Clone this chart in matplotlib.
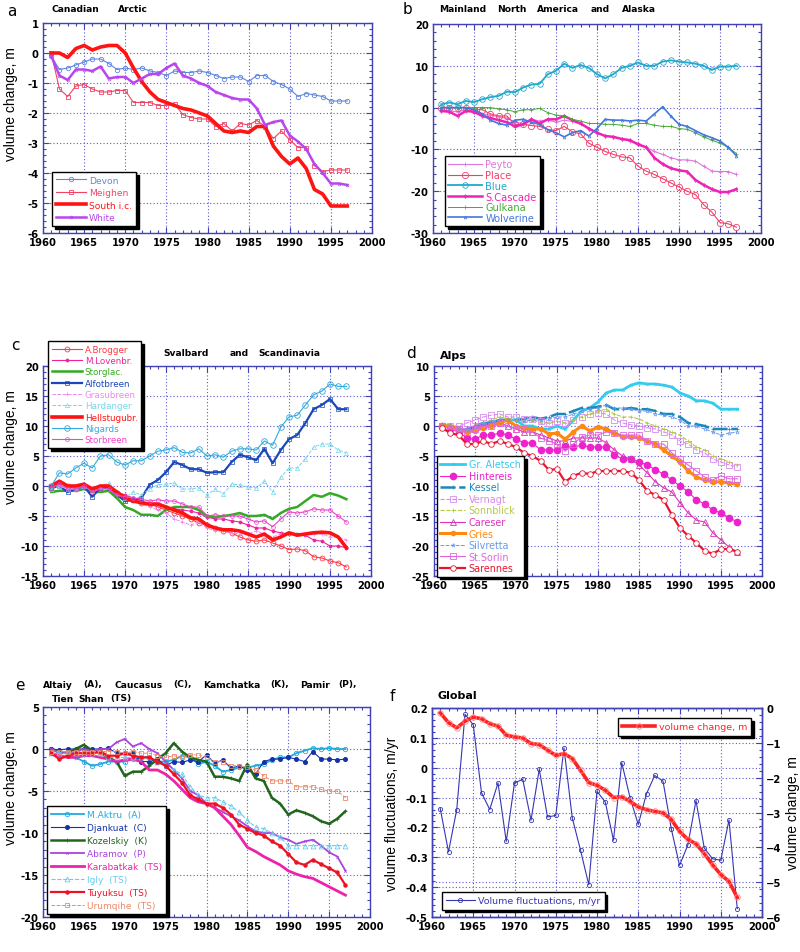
import matplotlib
matplotlib.use("Agg")
import matplotlib.pyplot as plt
from matplotlib.ticker import MultipleLocator, AutoMinorLocator, FuncFormatter

# ---------------- DATA ----------------
years = list(range(1961, 1998))

# a: Canadian Arctic
devon = [-0.1, -0.55, -0.5, -0.4, -0.3, -0.2, -0.2, -0.35, -0.55, -0.5,
         -0.55, -0.5, -0.6, -0.65, -0.75, -0.6, -0.65, -0.65, -0.6, -0.65,
         -0.75, -0.85, -0.8, -0.8, -0.95, -0.75, -0.75, -0.95, -1.05, -1.2,
         -1.45, -1.35, -1.4, -1.45, -1.6, -1.6, -1.6]
meighen = [0, -1.2, -1.45, -1.1, -1.05, -1.2, -1.3, -1.3, -1.25, -1.25,
           -1.65, -1.65, -1.65, -1.75, -1.75, -1.7, -2.05, -2.15, -2.2, -2.2,
           -2.45, -2.35, -2.6, -2.35, -2.4, -2.25, -2.45, -2.85, -2.6, -2.9,
           -3.15, -3.15, -3.75, -3.95, -3.9, -3.9, -3.9]
south_ic = [0, 0, -0.15, 0.15, 0.25, 0.1, 0.2, 0.25, 0.25, 0,
            -0.5, -0.95, -1.3, -1.55, -1.65, -1.75, -1.85, -1.9, -2.0, -2.1,
            -2.35, -2.6, -2.65, -2.6, -2.65, -2.45, -2.45, -3.1, -3.45, -3.7,
            -3.5, -3.85, -4.55, -4.7, -5.1, -5.1, -5.1]
white = [-0.1, -0.75, -0.9, -0.55, -0.55, -0.6, -0.45, -0.85, -0.8, -0.8,
         -1.0, -0.85, -0.7, -0.7, -0.5, -0.35, -0.75, -0.85, -1.0, -1.1,
         -1.3, -1.4, -1.5, -1.55, -1.55, -1.85, -2.4, -2.3, -2.25, -2.75,
         -2.95, -3.2, -3.7, -4.0, -4.35, -4.35, -4.4]

# b: Mainland North America and Alaska
peyto = [-0.5, -0.8, -1, -0.5, -0.8, -1.5, -1.8, -2.2, -2.5, -3.5,
         -3.8, -2.8, -3.2, -3.0, -3.5, -3.0, -3.3, -4.0, -5.0, -6.0,
         -6.8, -7.0, -7.5, -8.0, -8.5, -9.5, -10.5, -11.2, -12, -12.5,
         -12.5, -12.8, -14, -15.2, -15.3, -15.3, -16]
place = [0, 0, 0, 0, -0.5, -0.5, -1.5, -2, -2, -4,
         -4, -4.3, -4.5, -5.2, -5.5, -4.5, -5.8, -6.3, -8.5, -9.5,
         -10.5, -11.2, -11.8, -12, -14, -15.2, -16, -17, -18, -19,
         -20, -20.8, -23.2, -25, -27.5, -27.8, -28.6]
blue_gl = [0.8, 1.2, 0.8, 1.6, 1.3, 2.0, 2.5, 2.8, 3.8, 3.7,
           4.8, 5.5, 5.7, 8.0, 8.8, 10.5, 9.5, 10.2, 9.5, 8.0,
           7.0, 8.0, 9.5, 10.0, 10.8, 10.0, 10.0, 11.0, 11.3, 11.0,
           10.8, 10.5, 10.0, 9.0, 9.8, 9.8, 10.0]
s_cascade = [-0.8, -1, -2, -0.8, -1.0, -2.0, -2.5, -3.0, -3.5, -4.5,
             -4, -2.8, -3.8, -2.8, -2.8, -2.0, -3.0, -3.8, -5, -6,
             -6.8, -7.0, -7.5, -7.8, -8.8, -9.5, -12, -13.5, -14.5, -15,
             -15.3, -17.3, -18.5, -19.5, -20.2, -20.2, -19.5]
gulkana = [0, 0, 0, 0, 0, 0, 0, -0.3, -0.5, -1.0,
           -0.5, -0.5, -0.2, -1.2, -1.8, -2.0, -2.8, -3.2, -3.8, -3.8,
           -4.0, -4.0, -4.2, -4.5, -3.8, -3.8, -4.2, -4.5, -4.5, -5.0,
           -5.2, -6.0, -7.0, -7.8, -8.5, -9.5, -11.0]
wolverine = [0, 0, 0, 0, -0.5, -1.5, -3.0, -3.8, -4.2, -3.0,
             -2.8, -3.5, -4.0, -5.3, -6.0, -7.0, -6.0, -5.5, -6.8, -5.0,
             -2.8, -3.0, -3.0, -3.2, -3.0, -3.2, -1.5, 0.2, -2.0, -4.0,
             -4.5, -5.5, -6.5, -7.2, -8.0, -9.5, -11.5]

# c: Svalbard and Scandinavia
a_brogger = [-0.3, 0.5, 0, -0.5, 0, -0.5, -0.5, -0.3, -1.2, -2.0,
             -2.3, -2.8, -3.0, -3.5, -4.0, -4.5, -5.0, -5.5, -6.2, -6.5,
             -7.0, -7.5, -7.8, -8.5, -9.0, -9.2, -9.0, -9.5, -10.0, -10.6,
             -10.5, -10.8, -11.8, -12.0, -12.5, -12.8, -13.5]
m_lovenbr = [0, 0.5, 0, 0, 0, -0.5, 0, -0.5, -1.0, -1.5,
             -2.0, -2.5, -3.0, -3.0, -3.5, -3.8, -4.0, -4.2, -4.5, -5.2,
             -5.5, -5.5, -5.8, -6.0, -6.5, -7.0, -7.0, -7.5, -7.8, -8.0,
             -8.0, -8.2, -9.0, -9.2, -10.0, -10.0, -10.3]
storglac = [-1.0, -0.8, -0.8, -0.8, -0.5, -1.0, -1.0, -0.8, -2.0, -3.5,
            -4.0, -4.8, -4.8, -5.0, -4.0, -3.5, -3.5, -3.5, -4.0, -5.0,
            -5.2, -5.0, -4.8, -4.5, -5.0, -5.0, -4.8, -5.5, -4.5, -3.8,
            -3.5, -2.5, -1.5, -1.8, -1.2, -1.6, -2.2]
alfotbreen = [-0.3, 0, -1.0, -0.5, 0, -1.8, -0.3, -0.3, -1.5, -2.5,
              -2.3, -2.0, 0.2, 1.0, 2.3, 4.0, 3.5, 2.8, 2.8, 2.2,
              2.3, 2.3, 4.0, 5.2, 4.8, 4.3, 6.2, 3.8, 6.0, 7.8,
              8.5, 10.5, 12.8, 13.5, 14.5, 12.8, 12.8]
grasubreen = [0, 0, -0.5, -0.5, 0, -0.5, -0.3, -0.5, -1.5, -2.0,
              -2.5, -3.0, -3.5, -4.0, -4.5, -5.5, -6.0, -6.5, -6.0, -7.0,
              -7.5, -7.5, -7.8, -8.0, -8.0, -7.5, -8.0, -8.5, -8.0, -8.0,
              -8.0, -8.2, -8.0, -8.0, -8.5, -8.5, -9.0]
hardanger = [-0.5, 0, -0.5, -0.5, 0, -0.8, 0, 0.5, -1, -2.0,
             -1.0, -1.5, -0.5, 0.2, 0.3, 0.5, -0.5, -0.5, -0.3, -1.5,
             -0.5, -1.3, 0.3, 0.2, -0.2, -0.3, 0.8, -1.0, 1.5, 3.0,
             3.0, 4.5, 6.5, 7.0, 7.0, 6.0, 5.5]
hellstugubr = [0, 0.8, 0, 0, 0.3, -0.5, 0, 0, -1.0, -2.0,
               -2.5, -2.8, -3.0, -3.0, -3.5, -4.0, -4.5, -5.3, -5.5, -6.5,
               -7.0, -7.3, -7.3, -7.5, -8.0, -8.5, -8.0, -9.0, -8.5, -7.8,
               -8.2, -8.0, -7.8, -7.7, -7.8, -8.5, -10.3]
nigards = [0, 2.2, 2.0, 3.0, 3.8, 3.0, 5.0, 5.2, 4.0, 3.5,
           4.2, 4.2, 5.0, 5.8, 6.0, 6.4, 5.6, 5.5, 6.2, 5.0,
           5.2, 4.8, 5.8, 6.2, 6.2, 6.0, 7.5, 6.8, 9.8, 11.5,
           11.8, 13.5, 15.2, 15.8, 17.0, 16.6, 16.6]
storbreen = [-0.3, 0.3, -0.5, -0.5, 0, -1.0, -0.5, -0.5, -1.5, -1.8,
             -2.0, -2.2, -2.5, -2.3, -2.5, -2.5, -3.0, -3.5, -3.5, -5.0,
             -4.8, -5.0, -5.0, -5.0, -5.5, -6.0, -5.8, -6.8, -5.5, -4.3,
             -4.5, -4.3, -3.8, -4.0, -4.0, -5.0, -6.0]

# d: Alps
gr_aletsch = [0, 0, -0.5, -1.0, -0.5, 0, 0.5, 1.0, 1.0, 1.0,
              0, 0, -0.5, -0.5, 0, -0.5, 1.0, 2.5, 3.0, 4.0,
              5.5, 6.0, 6.0, 6.8, 7.2, 7.0, 7.0, 6.8, 6.5, 5.5,
              5.0, 4.2, 4.2, 3.8, 2.8, 2.8, 2.8]
hintereis = [0, -0.5, -1.0, -2.0, -2.2, -1.5, -1.5, -1.2, -1.5, -2.2,
             -2.8, -2.8, -4.0, -4.0, -4.0, -3.3, -3.5, -3.2, -3.5, -3.5,
             -3.5, -4.8, -5.5, -5.5, -6.0, -6.5, -7.3, -8.0, -9.0, -10.0,
             -11.0, -12.3, -13.0, -14.0, -14.5, -15.3, -16.0]
kessel = [0, 0, -0.5, -0.8, 0, 0.5, 0.5, 1.0, 1.0, 1.0,
          1.2, 1.5, 1.2, 1.5, 2.0, 2.0, 2.5, 3.0, 3.0, 3.2,
          3.5, 2.8, 2.8, 3.0, 2.8, 2.8, 2.5, 2.0, 2.0, 1.5,
          0.5, 0.3, 0.0, -0.5, -0.5, -0.5, -0.5]
vernagt = [0, 0, 0, 0.5, 1.0, 1.5, 1.8, 2.0, 1.5, 1.5,
           1.2, 1.2, 0.8, 0.5, 0.8, 0.5, 1.0, 1.5, 2.0, 2.2,
           2.0, 1.0, 0.5, 0.2, 0, -0.3, -0.5, -1.0, -1.5, -2.5,
           -3.0, -4.0, -4.5, -5.5, -6.0, -6.5, -6.8]
sonnblick = [0, 0, -0.5, -0.5, 0, 0.5, 1.0, 1.5, 1.2, 1.0,
             0.8, 1.0, 0.5, 0.5, 0.8, 0.5, 1.0, 1.5, 2.0, 2.5,
             2.8, 2.0, 1.5, 1.5, 1.2, 0.5, 0, -0.5, -1.0, -1.5,
             -2.5, -3.5, -4.0, -5.0, -5.5, -6.0, -6.5]
careser = [0, 0, -0.5, -0.5, 0, 0, 0.5, 0.5, 0, -0.5,
           -1.0, -1.0, -1.5, -2.0, -2.5, -2.5, -2.0, -2.0, -2.0, -2.0,
           -2.8, -4.0, -5.0, -5.5, -6.5, -7.8, -9.3, -10.3, -11.0, -12.8,
           -14.5, -15.7, -16.0, -17.8, -19.0, -20.2, -21.0]
gries = [0, 0, -0.5, -1.0, -0.8, -0.3, 0, 0.5, 1.0, 0,
         -0.3, -0.5, -0.5, -1.3, -1.2, -2.2, -1.0, 0, -0.8, -0.2,
         -0.5, -1.2, -1.8, -1.8, -2.0, -2.5, -3.0, -4.0, -5.0, -6.0,
         -7.5, -8.5, -9.0, -9.3, -9.3, -9.5, -9.7]
silvretta = [0, 0, -0.5, -0.5, 0, 0.5, 0.8, 1.0, 1.0, 1.0,
             0.8, 1.0, 1.0, 1.2, 1.5, 1.5, 2.0, 2.5, 2.8, 3.0,
             3.5, 3.0, 3.0, 2.8, 2.5, 2.5, 2.0, 1.8, 1.5, 1.0,
             0, 0, -0.5, -1.0, -1.5, -1.2, -1.0]
st_sorlin = [0, -0.5, -0.5, -1.0, -0.5, 0, 0, 0.5, 0, -0.5,
             -0.5, -1.0, -2.0, -2.5, -3.0, -4.2, -3.0, -1.8, -1.5, -1.5,
             -1.0, -1.2, -1.5, -1.5, -1.5, -2.5, -3.0, -3.0, -4.5, -5.5,
             -6.5, -7.5, -8.5, -9.0, -8.3, -8.8, -8.8]
sarennes = [-0.3, -1.2, -1.5, -3.0, -3.0, -2.5, -3.0, -2.5, -3.0, -3.5,
            -4.5, -5.0, -5.8, -7.3, -7.2, -9.3, -8.3, -7.8, -8.0, -7.5,
            -7.5, -7.5, -7.5, -7.8, -9.0, -10.8, -11.5, -12.3, -14.8, -17.0,
            -18.3, -19.5, -20.8, -21.3, -20.5, -20.5, -21.0]

# e: Altaiy, Caucasus, Kamchatka, Pamir, Tien Shan
m_aktru = [0, -0.3, -0.5, -1.0, -1.5, -2.0, -1.8, -1.5, -1.5, -1.5,
           -1.2, -1.0, -1.0, -1.5, -1.5, -1.3, -0.8, -1.0, -1.8, -1.5,
           -2.0, -2.7, -2.5, -2.2, -2.2, -2.0, -1.8, -1.3, -1.0, -1.0,
           -0.5, -0.2, 0.1, 0, 0.1, 0, 0]
djankuat = [0, -0.1, 0, 0, 0, 0, 0, 0.1, -0.5, -0.5,
            -0.5, -1.5, -1.5, -1.2, -2.0, -1.5, -1.6, -1.3, -1.5, -0.7,
            -1.7, -1.3, -2.3, -2.0, -2.5, -3.0, -1.5, -1.2, -1.2, -1.0,
            -1.2, -1.5, -0.3, -1.2, -1.2, -1.3, -1.2]
kozelskiy = [0, -0.3, -0.5, 0, 0.5, -0.2, -0.5, -1.0, -1.5, -3.2,
             -2.7, -2.7, -2.0, -1.2, -0.5, 0.7, -0.3, -1.0, -1.3, -1.5,
             -3.3, -3.3, -3.5, -3.8, -1.8, -3.5, -3.8, -5.8, -6.5, -7.8,
             -7.3, -7.6, -8.0, -8.6, -8.9, -8.3, -7.4]
abramov = [0, -0.5, -0.5, -0.3, 0, -0.3, 0, 0, 0.8, 1.2,
           0.3, 0.7, 0, -0.5, -1.5, -2.5, -3.5, -5.0, -5.5, -6.5,
           -7.0, -7.5, -8.0, -8.5, -9.2, -9.8, -10.0, -10.0, -10.5, -10.8,
           -11.3, -11.0, -10.8, -11.5, -12.3, -12.8, -14.5]
karabatkak = [-0.5, -0.8, -1.0, -1.0, -0.8, -0.8, -1.0, -1.2, -1.5, -1.3,
              -1.2, -1.5, -2.5, -2.5, -3.0, -3.8, -4.8, -5.8, -6.3, -6.5,
              -7.0, -8.0, -9.0, -10.3, -11.7, -12.2, -12.8, -13.3, -13.8, -14.5,
              -14.9, -15.2, -15.4, -15.9, -16.4, -16.9, -17.4]
igly = [-0.5, -0.5, -0.5, -0.5, -0.5, -0.5, -0.5, -1.0, -1.0, -1.0,
        -1.0, -1.0, -1.0, -1.5, -2.0, -2.5, -3.0, -4.5, -5.5, -5.8,
        -5.8, -6.3, -6.8, -7.5, -8.5, -9.3, -9.5, -10.0, -10.5, -11.5,
        -11.5, -11.5, -11.5, -11.5, -11.5, -11.5, -11.5]
tuyuksu = [-0.5, -1.2, -0.8, -0.5, -0.5, -0.5, -0.3, -0.8, -0.8, -0.5,
           -0.8, -1.0, -1.0, -1.5, -2.0, -3.0, -4.0, -5.5, -6.0, -6.5,
           -6.5, -7.0, -7.8, -9.0, -9.5, -10.0, -10.3, -11.0, -11.5, -12.5,
           -13.5, -13.8, -13.2, -13.7, -14.2, -14.7, -16.2]
urumqihe = [-0.3, -0.3, -0.3, -0.3, -0.3, -0.3, -0.3, -0.3, -0.3, -0.5,
            -0.3, -0.5, -0.5, -0.8, -1.0, -0.8, -1.0, -0.7, -0.7, -1.0,
            -1.5, -1.5, -2.0, -2.0, -2.2, -2.5, -3.2, -3.8, -3.8, -3.8,
            -4.5, -4.5, -4.5, -4.8, -5.0, -5.0, -5.8]

# f: Global
vol_fluct = [-0.137, -0.282, -0.14, 0.179, 0.144, -0.084, -0.14, -0.051, -0.247, -0.051,
             -0.039, -0.176, -0.005, -0.165, -0.16, 0.066, -0.168, -0.276, -0.392, -0.079,
             -0.115, -0.243, 0.017, -0.10, -0.19, -0.087, -0.026, -0.045, -0.204, -0.327,
             -0.26, -0.11, -0.269, -0.305, -0.31, -0.175, -0.472]
vol_change = [-0.14, -0.42, -0.57, -0.38, -0.26, -0.31, -0.45, -0.52, -0.78, -0.83,
              -0.86, -1.02, -1.05, -1.21, -1.36, -1.31, -1.45, -1.79, -2.14, -2.22,
              -2.36, -2.57, -2.55, -2.68, -2.84, -2.92, -2.97, -3.01, -3.2, -3.54,
              -3.77, -3.9, -4.18, -4.5, -4.78, -4.98, -5.44]

# ---------------- STYLE ----------------
W, H = 800, 953
AXC = '#4040b8'
GRIDC = '#5a5ad0'
plt.rcParams['font.family'] = ['DejaVu Sans']
LABEL_FONT = ['Liberation Sans', 'DejaVu Sans']

fig = plt.figure(figsize=(W / 100, H / 100), dpi=100)

# axes rectangles in pixels: left, right, top, bottom
RECTS = {
    'a': (43, 372, 24, 234),
    'b': (433, 761, 25, 234),
    'c': (43, 371, 367, 577),
    'd': (434, 762, 367, 577),
    'e': (43, 370, 708, 918),
    'f': (432, 762, 709, 918),
}


def make_ax(key):
    l, r, t, b = RECTS[key]
    return fig.add_axes([l / W, 1 - b / H, (r - l) / W, (b - t) / H])


def style(ax, ylim, ymaj, right=True, grid_x=True):
    ax.set_xlim(1960, 2000)
    ax.set_ylim(*ylim)
    ax.xaxis.set_major_locator(MultipleLocator(5))
    ax.xaxis.set_minor_locator(MultipleLocator(1))
    ax.yaxis.set_major_locator(MultipleLocator(ymaj))
    ax.yaxis.set_minor_locator(AutoMinorLocator(5))
    ax.yaxis.set_major_formatter(FuncFormatter(lambda v, p: f'{round(v, 3):g}'))
    ax.tick_params(which='both', direction='in', top=True, right=right,
                   color=AXC, width=0.8, labelsize=7.2, pad=3)
    ax.tick_params(which='major', length=4.5)
    ax.tick_params(which='minor', length=2.5)
    for sp in ax.spines.values():
        sp.set_color(AXC)
        sp.set_linewidth(1.0)
    ax.grid(True, which='major', axis='both' if grid_x else 'y',
            ls=(0, (1, 2)), color=GRIDC, lw=0.8)
    ax.set_axisbelow(True)
    for lbl in ax.get_xticklabels() + ax.get_yticklabels():
        lbl.set_fontweight('bold')


def legend(ax, key, x0, y0, handles=None, fs=7.0, ls=0.2, hl=3.0, bp=0.4, add=False):
    l, r, t, b = RECTS[key]
    ax_x = (x0 - l) / (r - l)
    ax_y = (b - y0) / (b - t)
    kw = dict(loc='upper left', bbox_to_anchor=(ax_x, ax_y),
              bbox_transform=ax.transAxes, frameon=True, fancybox=False,
              shadow={'color': 'black', 'alpha': 1.0}, edgecolor='black',
              framealpha=1.0, fontsize=fs, labelspacing=ls, handlelength=hl,
              borderaxespad=0, borderpad=bp, handletextpad=0.35,
              labelcolor='linecolor')
    if handles is not None:
        leg = ax.legend(handles=handles, **kw)
    else:
        leg = ax.legend(**kw)
    leg.get_frame().set_linewidth(1.0)
    leg.set_zorder(10)
    if add:
        ax.add_artist(leg)
    return leg


def ftext(x, y, s, **kw):
    fig.text(x / W, 1 - y / H, s, va='center', ha='left', **kw)


def words(y, items, fs=6.6):
    for x, w in items:
        ftext(x, y, w, fontsize=fs, fontweight='bold')


def ylab(ax, text, xc, yc=0.62):
    ax.set_ylabel(text, fontsize=10, family=LABEL_FONT)
    ax.yaxis.set_label_coords(xc, yc)


LBL = 11

# ---------------- PANEL a ----------------
ax = make_ax('a')
ax.plot(years, devon, color='#5f85e0', lw=0.8, marker='o', ms=3.2, mfc='none', mew=0.6, label='Devon')
ax.plot(years, meighen, color='#ee4466', lw=0.8, marker='s', ms=3.0, mfc='none', mew=0.6, label='Meighen')
ax.plot(years, south_ic, color='#ff1414', lw=2.6, label='South i.c.')
ax.plot(years, white, color='#b945ee', lw=1.8, marker='o', ms=2.0, mfc='none', mew=0.5, label='White')
style(ax, (-6, 1), 1)
ylab(ax, 'volume change, m', -0.076)
legend(ax, 'a', 52, 173, fs=6.6, ls=0.38, hl=3.3)
ftext(7, 11, 'a', fontsize=LBL)
words(9, [(51, 'Canadian'), (118, 'Arctic')])

# ---------------- PANEL b ----------------
ax = make_ax('b')
ax.plot(years, peyto, color='#dd77dd', lw=0.8, marker='+', ms=3, mew=0.6, label='Peyto')
ax.plot(years, place, color='#f0406a', lw=0.8, marker='o', ms=4.5, mfc='none', mew=0.6, label='Place')
ax.plot(years, blue_gl, color='#22a8cc', lw=1.3, marker='o', ms=4, mfc='none', mew=0.6, label='Blue')
ax.plot(years, s_cascade, color='#ee22b4', lw=1.8, marker='d', ms=2, mfc='none', mew=0.5, label='S.Cascade')
ax.plot(years, gulkana, color='#44aa33', lw=0.7, marker='+', ms=2.5, mew=0.5, label='Gulkana')
ax.plot(years, wolverine, color='#4477dd', lw=1.2, marker='^', ms=2, mfc='none', mew=0.5, label='Wolverine')
style(ax, (-30, 20), 10)
legend(ax, 'b', 445, 157, fs=7.1, ls=0.07, hl=3.4, bp=0.35)
ftext(403, 9, 'b', fontsize=LBL)
words(10, [(439, 'Mainland'), (497, 'North'), (537, 'America'), (591, 'and'), (622, 'Alaska')])

# ---------------- PANEL c ----------------
ax = make_ax('c')
ax.plot(years, a_brogger, color='#ff3a44', lw=0.8, marker='o', ms=3.5, mfc='none', mew=0.6, label='A.Brogger')
ax.plot(years, m_lovenbr, color='#ee2299', lw=0.8, marker='o', ms=2.2, mew=0.5, label='M.Lovenbr.')
ax.plot(years, storglac, color='#33aa22', lw=1.8, label='Storglac.')
ax.plot(years, alfotbreen, color='#1a48b8', lw=1.6, marker='s', ms=2.5, mfc='none', mew=0.5, label='Alfotbreen')
ax.plot(years, grasubreen, color='#ee88ee', lw=0.7, ls='--', marker='+', ms=3, mew=0.5, label='Grasubreen')
ax.plot(years, hardanger, color='#77d6ea', lw=0.7, ls='--', marker='^', ms=3, mfc='none', mew=0.5, label='Hardanger')
ax.plot(years, hellstugubr, color='#ff1111', lw=2.6, label='Hellstugubr.')
ax.plot(years, nigards, color='#33a8dd', lw=0.8, marker='o', ms=4, mfc='none', mew=0.6, label='Nigards')
ax.plot(years, storbreen, color='#ee44c8', lw=0.8, marker='o', ms=2.8, mfc='none', mew=0.5, label='Storbreen')
style(ax, (-15, 20), 5)
ylab(ax, 'volume change, m', -0.076)
legend(ax, 'c', 48, 342, fs=6.3, ls=0.26, hl=3.4, bp=0.45)
ftext(11, 346, 'c', fontsize=LBL)
words(353, [(163, 'Svalbard'), (230, 'and'), (258, 'Scandinavia')])

# ---------------- PANEL d ----------------
ax = make_ax('d')
ax.plot(years, gr_aletsch, color='#33ccee', lw=2.0, marker='o', ms=2, mfc='none', mew=0.4, label='Gr. Aletsch')
ax.plot(years, hintereis, color='#ee22cc', lw=0.8, marker='o', ms=4.5, label='Hintereis')
ax.plot(years, kessel, color='#1a88bb', lw=1.8, ls=(0, (6, 1.5)), marker='+', ms=2.5, mew=0.5, label='Kessel')
ax.plot(years, vernagt, color='#d98aee', lw=0.8, ls='--', marker='s', ms=4, mfc='none', mew=0.6, label='Vernagt')
ax.plot(years, sonnblick, color='#b8c844', lw=0.8, ls='--', marker='+', ms=2.5, mew=0.5, label='Sonnblick')
ax.plot(years, careser, color='#dd33bb', lw=0.8, marker='^', ms=4, mfc='none', mew=0.6, label='Careser')
ax.plot(years, gries, color='#ff8811', lw=2.2, marker='o', ms=3, label='Gries')
ax.plot(years, silvretta, color='#6699ee', lw=0.7, ls='--', marker='*', ms=3, mfc='none', mew=0.4, label='Silvretta')
ax.plot(years, st_sorlin, color='#dd66dd', lw=0.8, marker='s', ms=4.5, mfc='none', mew=0.6, label='St.Sorlin')
ax.plot(years, sarennes, color='#e81530', lw=1.6, marker='o', ms=4, mfc='white', mew=0.6, label='Sarennes')
style(ax, (-25, 10), 5)
legend(ax, 'd', 437, 457, fs=6.9, ls=0.16, hl=2.6, bp=0.35)
ftext(406, 354, 'd', fontsize=LBL)
ftext(440, 356, 'Alps', fontsize=8, fontweight='bold')

# ---------------- PANEL e ----------------
ax = make_ax('e')
ax.plot(years, m_aktru, color='#22aadd', lw=1.3, marker='o', ms=3.2, mfc='none', mew=0.6, label='M.Aktru  (A)')
ax.plot(years, djankuat, color='#1530a8', lw=0.8, marker='o', ms=2.6, label='Djankuat  (C)')
ax.plot(years, kozelskiy, color='#22661e', lw=1.8, marker='+', ms=2.5, mew=0.5, label='Kozelskiy  (K)')
ax.plot(years, abramov, color='#aa44dd', lw=1.3, marker='x', ms=1.8, mew=0.5, label='Abramov  (P)')
ax.plot(years, karabatkak, color='#ee22aa', lw=2.0, label='Karabatkak  (TS)')
ax.plot(years, igly, color='#66ccee', lw=0.8, ls='--', marker='^', ms=3.5, mfc='none', mew=0.6, label='Igly  (TS)')
ax.plot(years, tuyuksu, color='#ee1122', lw=1.6, marker='o', ms=2.2, label='Tuyuksu  (TS)')
ax.plot(years, urumqihe, color='#ee8866', lw=0.7, ls='--', marker='s', ms=3.5, mfc='none', mew=0.6, label='Urumqihe  (TS)')
style(ax, (-20, 5), 5)
ylab(ax, 'volume change, m', -0.076)
legend(ax, 'e', 47, 807, fs=6.5, ls=0.44, hl=3.6, bp=0.45)
ftext(15, 685, 'e', fontsize=LBL)
words(685, [(43, 'Altaiy'), (83, '(A),'), (115, 'Caucasus'), (173, '(C),'),
            (203, 'Kamchatka'), (270, '(K),'), (300, 'Pamir'), (338, '(P),')])
words(699, [(52, 'Tien'), (78, 'Shan'), (110, '(TS)')])

# ---------------- PANEL f ----------------
ax = make_ax('f')
h1, = ax.plot(years, vol_fluct, color='#3535b5', lw=0.8, marker='o', ms=3, mfc='none', mew=0.6,
              label='Volume fluctuations, m/yr')
style(ax, (-0.5, 0.2), 0.1, right=False)
ylab(ax, 'volume fluctuations, m/yr', -0.1, 0.5)

ax2 = ax.twinx()
h2, = ax2.plot(years, vol_change, color='#ff2222', lw=2.6, marker='o', ms=4, mfc='none',
               mec='#ff8a8a', mew=0.6, label='volume change, m')
ax2.set_ylim(-6, 0)
ax2.yaxis.set_major_locator(MultipleLocator(1))
ax2.yaxis.set_minor_locator(AutoMinorLocator(5))
ax2.tick_params(which='both', direction='in', color=AXC, width=0.8, labelsize=7.2, pad=3)
ax2.tick_params(which='major', length=4.5)
ax2.tick_params(which='minor', length=2.5)
for sp in ax2.spines.values():
    sp.set_color(AXC)
    sp.set_linewidth(1.0)
ax2.grid(True, which='major', axis='y', ls=(0, (1, 2)), color=GRIDC, lw=0.8)
for lbl in ax2.get_yticklabels():
    lbl.set_fontweight('bold')
ax2.set_ylabel('volume change, m', fontsize=10, family=LABEL_FONT)
ax2.yaxis.set_label_coords(1.073, 0.5)

legend(ax2, 'f', 618, 719, handles=[h2], fs=6.8, hl=3.5, bp=0.45, add=True)
legend(ax2, 'f', 442, 893, handles=[h1], fs=6.8, hl=3.0, bp=0.45)
ftext(390, 697, 'f', fontsize=LBL)
ftext(437, 696, 'Global', fontsize=8, fontweight='bold')

fig.savefig('out.png', dpi=100, facecolor='white')
